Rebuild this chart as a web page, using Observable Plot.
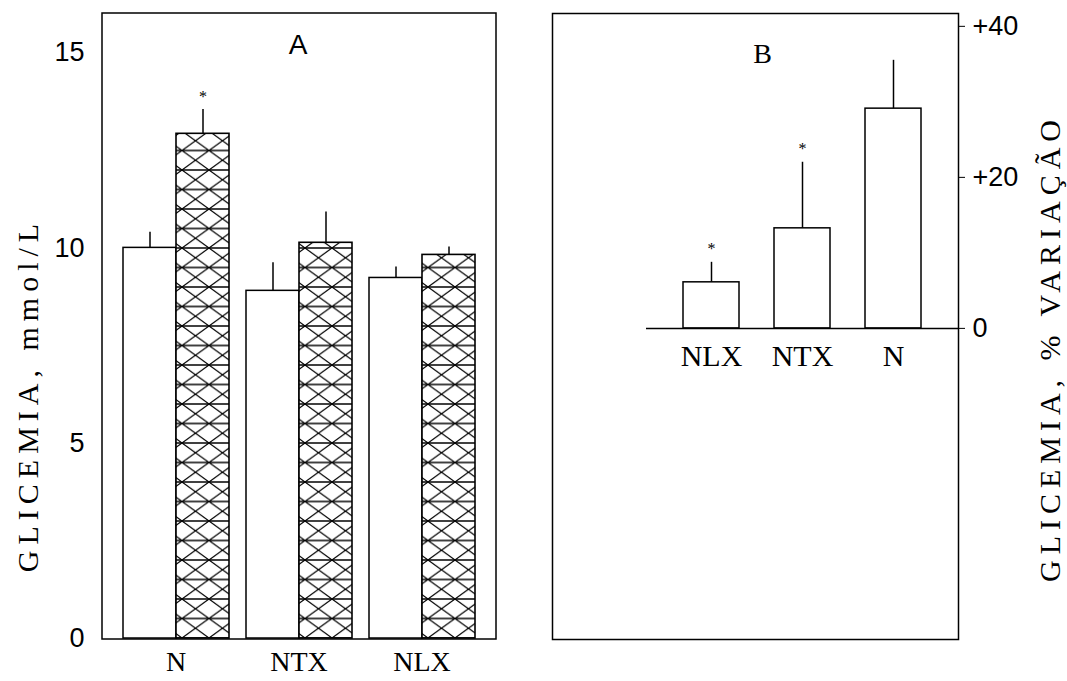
<!DOCTYPE html>
<html>
<head>
<meta charset="utf-8">
<script src="https://cdn.jsdelivr.net/npm/d3@7"></script>
<script src="https://cdn.jsdelivr.net/npm/@observablehq/plot@0.6"></script>
<style>
  html, body { margin: 0; padding: 0; background: #fff; }
  #wrap { position: relative; width: 1067px; height: 681px; overflow: hidden; background: #fff; }
  #wrap svg { position: absolute; top: 0; }
  .title { position: absolute; white-space: nowrap; color: #000; transform: translate(-50%, -50%) rotate(-90deg); font-family: "Liberation Serif", "Times New Roman", serif; }
  .panel { position: absolute; color: #000; transform: translate(-50%, -50%); }
  [aria-label^="fx-axis"] text { font-family: "Liberation Serif", "Times New Roman", serif; font-size: 28px; }
  [aria-label^="y-axis"] text { font-family: "Liberation Sans", Arial, sans-serif; font-size: 27px; }
</style>
</head>
<body>
<div id="wrap"></div>
<script>
// Panel A: glycemia (mmol/L), basal (white) vs. after treatment (hatched)
const groupsA = ["N", "NTX", "NLX"];
const basalA = [10.0, 8.9, 9.23];
const basalErrA = [0.4, 0.72, 0.28];
const postA = [12.92, 10.13, 9.82];
const postErrA = [0.62, 0.79, 0.2];
const postSigA = [true, false, false];
const yTicksA = [0, 5, 10, 15];

// Panel B: glycemia, % variation
const catsB = ["NLX", "NTX", "N"];
const valuesB = [6.1, 13.25, 29.1];
const errB = [2.65, 8.75, 6.4];
const sigB = [true, true, false];
const yTicksB = [0, 20, 40];

const dataA = groupsA.flatMap((g, i) => [
  {group: g, cond: "basal", v: basalA[i], e: basalErrA[i], sig: false},
  {group: g, cond: "post", v: postA[i], e: postErrA[i], sig: postSigA[i]}
]);
const dataB = catsB.map((c, i) => ({cat: c, v: valuesB[i], e: errB[i], sig: sigB[i]}));

const wrap = document.getElementById("wrap");

const mLA = 102, mRA = 44, mTA = 13, mBA = 43, WA = 540, HA = 681;
const plotA = Plot.plot({
  width: WA, height: HA,
  marginLeft: mLA, marginRight: mRA, marginTop: mTA, marginBottom: mBA,
  style: {background: "transparent", color: "#000", fontFamily: "Liberation Sans, Arial, sans-serif"},
  facet: {data: dataA, x: "group"},
  fx: {domain: groupsA, paddingInner: 0.13, paddingOuter: 0.155, axis: "bottom", label: null, tickSize: 0, tickPadding: 13},
  x: {domain: ["basal", "post"], padding: 0, axis: null},
  y: {domain: [0, 16], ticks: yTicksA, tickSize: 0, tickPadding: 38, label: null},
  marks: [
    Plot.barY(dataA, {filter: d => d.cond === "basal", x: "cond", y: "v", fill: "white", stroke: "black", strokeWidth: 1.5}),
    Plot.barY(dataA, {filter: d => d.cond === "post", x: "cond", y: "v", fill: "url(#hatchA)", stroke: "black", strokeWidth: 1.6}),
    Plot.ruleX(dataA, {x: "cond", y1: "v", y2: d => d.v + d.e, stroke: "black", strokeWidth: 1.5}),
    Plot.text(dataA, {filter: d => d.sig, x: "cond", y: d => d.v + d.e, dy: -13, text: () => "*", fontSize: 16, fontFamily: "Liberation Serif, serif"})
  ]
});
plotA.style.left = "0px";
wrap.appendChild(plotA);

// hatch pattern + outer frame for panel A
{
  const svg = d3.select(plotA);
  const rect = svg.select('rect[fill="url(#hatchA)"]');
  const px = rect.empty() ? 0 : +rect.attr("x");
  const y0 = HA - mBA;
  const defs = svg.insert("defs", ":first-child");
  const pw = 27, ph = 19.5;
  const pat = defs.append("pattern").attr("id", "hatchA").attr("patternUnits", "userSpaceOnUse")
    .attr("x", px).attr("y", y0).attr("width", pw).attr("height", ph);
  pat.append("rect").attr("width", pw).attr("height", ph).attr("fill", "white");
  pat.append("path").attr("d", `M0,0L${pw},${ph}M${pw},0L0,${ph}`).attr("stroke", "black").attr("stroke-width", 1.2).attr("fill", "none");
  pat.append("path").attr("d", `M0,0H${pw}M0,${ph}H${pw}`).attr("stroke", "black").attr("stroke-width", 1.6).attr("fill", "none");
  svg.append("rect").attr("x", mLA).attr("y", mTA).attr("width", WA - mLA - mRA).attr("height", HA - mTA - mBA + 1)
    .attr("fill", "none").attr("stroke", "black").attr("stroke-width", 1.5);
}

const plotB = Plot.plot({
  width: 527, height: 681,
  marginLeft: 12, marginRight: 109, marginTop: 13, marginBottom: 42,
  style: {background: "transparent", color: "#000", fontFamily: "Liberation Sans, Arial, sans-serif"},
  x: {domain: catsB, paddingInner: 0.39, paddingOuter: 0.913, align: 0.78, axis: null},
  y: {domain: [-41.2, 41.7], ticks: yTicksB, axis: "right", tickSize: 6, tickPadding: 8, label: null,
      tickFormat: d => d > 0 ? "+" + d : String(d)},
  marks: [
    Plot.frame({stroke: "black", strokeWidth: 1.5}),
    Plot.ruleY([0], {insetLeft: 94, stroke: "black", strokeWidth: 1.5}),
    Plot.barY(dataB, {x: "cat", y: "v", fill: "white", stroke: "black", strokeWidth: 1.5}),
    Plot.ruleX(dataB, {x: "cat", y1: "v", y2: d => d.v + d.e, stroke: "black", strokeWidth: 1.5}),
    Plot.text(dataB, {filter: d => d.sig, x: "cat", y: d => d.v + d.e, dy: -13, text: () => "*", fontSize: 16, fontFamily: "Liberation Serif, serif"}),
    Plot.text(dataB, {x: "cat", y: 0, dy: 28, text: "cat", fontSize: 30, fontFamily: "Liberation Serif, serif"}),
    Plot.text(["B"], {frameAnchor: "top", dx: 7, dy: 30, text: d => d, fontSize: 28, fontFamily: "Liberation Serif, serif"})
  ]
});
plotB.style.left = "540px";
wrap.appendChild(plotB);

// axis titles and panel letter
function addDiv(cls, text, x, y, css) {
  const d = document.createElement("div");
  d.className = cls;
  d.textContent = text;
  d.style.left = x + "px";
  d.style.top = y + "px";
  Object.assign(d.style, css || {});
  wrap.appendChild(d);
}
addDiv("panel", "A", 298, 45, {fontFamily: "Liberation Sans, Arial, sans-serif", fontSize: "28px"});
addDiv("title", "GLICEMIA, mmol/L", 28, 395, {fontSize: "30px", letterSpacing: "6px"});
addDiv("title", "GLICEMIA, % VARIAÇÃO", 1050, 348, {fontSize: "30px", letterSpacing: "6px"});
</script>
</body>
</html>
